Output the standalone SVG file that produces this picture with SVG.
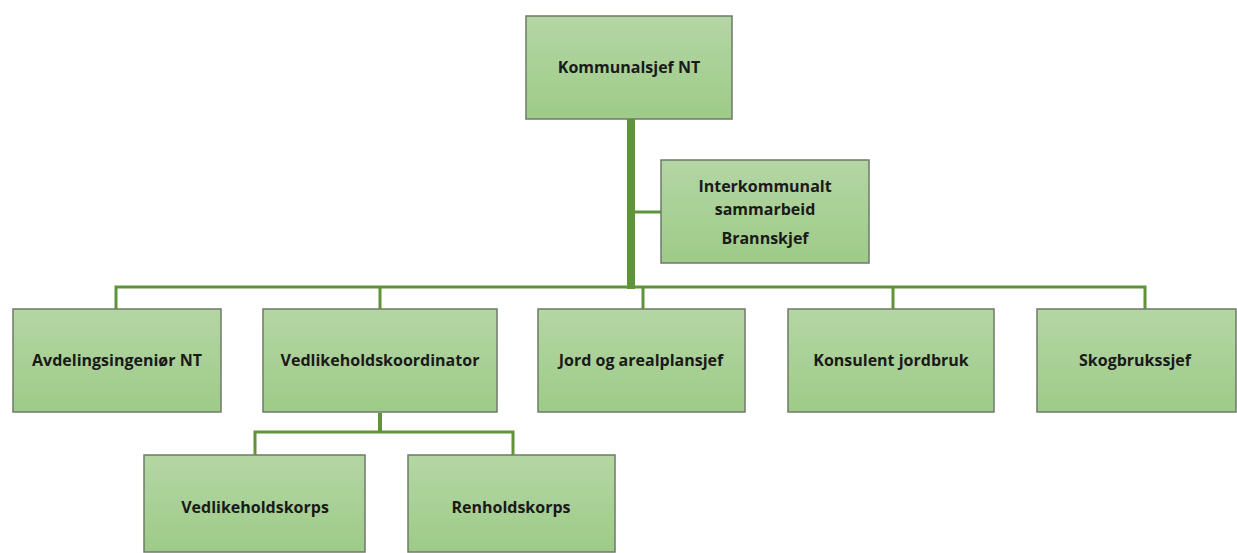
<svg xmlns="http://www.w3.org/2000/svg" width="1237" height="553" viewBox="0 0 1237 553">
<style>
.box{fill:url(#g);stroke:#6f7a68;stroke-width:1.5}
.t{font-family:"Open Sans","Noto Sans","DejaVu Sans",sans-serif;font-weight:bold;font-size:16px;fill:#1a1a1a;text-anchor:middle;dominant-baseline:central}
.c{stroke:#609439;fill:none;stroke-width:3}
</style>
<defs>
<linearGradient id="g" x1="0" y1="0" x2="0" y2="1">
<stop offset="0" stop-color="#b4d6a4"/>
<stop offset="1" stop-color="#9ecb88"/>
</linearGradient>
</defs>
<rect width="1237" height="553" fill="#ffffff"/>
<g id="connectors">
<line class="c" x1="631" y1="119" x2="631" y2="289" style="stroke-width:8"/>
<line class="c" x1="631" y1="212" x2="661" y2="212"/>
<polyline class="c" points="116,309 116,287 1145,287 1145,309"/>
<line class="c" x1="380" y1="287" x2="380" y2="309"/>
<line class="c" x1="643" y1="287" x2="643" y2="309"/>
<line class="c" x1="893" y1="287" x2="893" y2="309"/>
<line class="c" x1="380" y1="413" x2="380" y2="433" style="stroke-width:4"/>
<polyline class="c" points="255,455 255,432 513,432 513,455"/>
</g>
<g id="kommunalsjef"><rect class="box" x="526" y="16" width="206" height="103"/><text class="t" x="629" y="67">Kommunalsjef NT</text></g>
<g id="interkommunalt"><rect class="box" x="661" y="160" width="208" height="103"/><text class="t" x="765" y="186">Interkommunalt</text><text class="t" x="765" y="209">sammarbeid</text><text class="t" x="765" y="238">Brannskjef</text></g>
<g id="avdelingsingenior"><rect class="box" x="13" y="309" width="208" height="103"/><text class="t" x="117" y="360">Avdelingsingeniør NT</text></g>
<g id="vedlikeholdskoordinator"><rect class="box" x="263" y="309" width="234" height="103"/><text class="t" x="380" y="360">Vedlikeholdskoordinator</text></g>
<g id="jord"><rect class="box" x="538" y="309" width="207" height="103"/><text class="t" x="641" y="360">Jord og arealplansjef</text></g>
<g id="konsulent"><rect class="box" x="788" y="309" width="206" height="103"/><text class="t" x="891" y="360">Konsulent jordbruk</text></g>
<g id="skogbrukssjef"><rect class="box" x="1037" y="309" width="199" height="103"/><text class="t" x="1135" y="360">Skogbrukssjef</text></g>
<g id="vedlikeholdskorps"><rect class="box" x="144" y="455" width="221" height="97"/><text class="t" x="255" y="507">Vedlikeholdskorps</text></g>
<g id="renholdskorps"><rect class="box" x="408" y="455" width="207" height="97"/><text class="t" x="511" y="507">Renholdskorps</text></g>
</svg>
